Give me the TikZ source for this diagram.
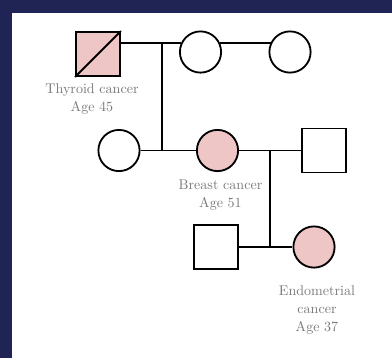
\documentclass[tikz,border=0pt]{standalone}
\usetikzlibrary{positioning}
\definecolor{navy}{HTML}{1F2454}
\definecolor{pinkfill}{HTML}{EEC6C6}
\definecolor{labelgray}{HTML}{7A7A7A}
\tikzset{
  male/.style={draw, line width=1.3pt, minimum size=1.1cm, inner sep=0pt},
  female/.style={circle, draw, line width=1.3pt, minimum size=1.03cm, inner sep=0pt},
  sick/.style={fill=pinkfill},
  tag/.style={text=labelgray, align=center, font=\fontsize{10}{12.8}\selectfont},
  rel/.style={line width=1.3pt}
}

\begin{document}
\begin{tikzpicture}[x=0.025cm, y=-0.025cm]
	%%%%% START %%%%%
	
	\fill[navy] (0, 0) rectangle (392, 358);
	\fill[white] (12, 13) rectangle (392, 358);
	
	\node[male, sick] (th) at (98, 54) {};
	\node[female] (w1) at (200.5, 52) {};
	\node[female] (w2) at (290, 52) {};
	
	\node[female] (lc) at (119, 150.5) {};
	\node[female, sick] (bc) at (217.5, 150.5) {};
	\node[male] (hb) at (324, 150.5) {};
	
	\node[male] (sn) at (216, 247) {};
	\node[female, sick] (ec) at (314, 247) {};
	
	\coordinate (c1) at (162, 0);
	\coordinate (c2) at (270, 0);
	
	\draw[rel] (th.south west) -- (th.north east);
	\draw[rel] (th.east |- w1.155) -- (w1.155);
	\draw[rel] (w1.25) -- (w2.155);
	\draw[rel] (w1.155 -| c1) -- (lc.east -| c1);
	
	\draw[rel] (lc) -- (bc);
	\draw[rel] (bc) -- (hb);
	\draw[rel] (bc.east -| c2) -- (sn.east -| c2);
	
	\draw[rel] (sn) -- (ec);
	
	\node[tag] (thl) at (92, 99) {Thyroid cancer\\Age 45};
	\node[tag] (bcl) at (220.5, 195) {Breast cancer\\Age 51};
	\node[tag] (ecl) at (317, 310.5) {Endometrial\\cancer\\Age 37};
	
	%%%%% END %%%%%
\end{tikzpicture}
\end{document}
